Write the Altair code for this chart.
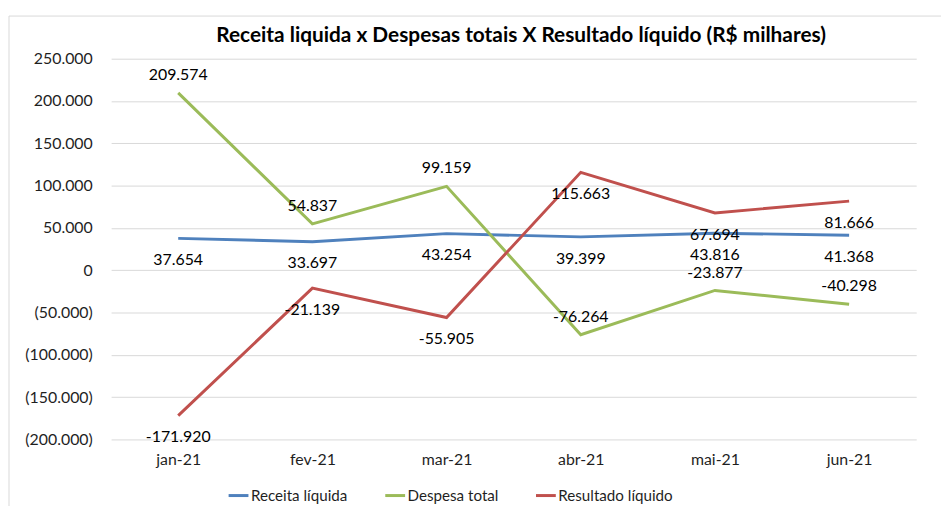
import altair as alt
import pandas as pd

months = ["jan-21", "fev-21", "mar-21", "abr-21", "mai-21", "jun-21"]
series_names = ["Receita líquida", "Despesa total", "Resultado líquido"]
receita = [37654, 33697, 43254, 39399, 43816, 41368]
despesa = [209574, 54837, 99159, -76264, -23877, -40298]
resultado = [-171920, -21139, -55905, 115663, 67694, 81666]
label_side = {"Receita líquida": "below", "Despesa total": "above", "Resultado líquido": "below"}
colors = ["#4F81BD", "#9BBB59", "#C0504D"]
y_ticks = [-200000, -150000, -100000, -50000, 0, 50000, 100000, 150000, 200000, 250000]
title_text = "Receita liquida x Despesas totais X Resultado líquido (R$ milhares)"

rows = []
for name, vals in zip(series_names, [receita, despesa, resultado]):
    for m, v in zip(months, vals):
        rows.append({"mes": m, "serie": name, "valor": v,
                     "rotulo": f"{v:,}".replace(",", "."),
                     "lado": label_side[name]})
df = pd.DataFrame(rows)

FONT = "Lato"
TXT = "#1f1f1f"

x_enc = alt.X("mes:O", sort=months, scale=alt.Scale(type="point", padding=0.5),
              axis=alt.Axis(title=None, labelAngle=0, domain=False, ticks=False, grid=False,
                            labelPadding=12, labelFontSize=16, labelFont=FONT, labelColor=TXT))
y_enc = alt.Y("valor:Q", scale=alt.Scale(domain=[-200000, 250000], nice=False, zero=False),
              axis=alt.Axis(title=None, values=y_ticks, domain=False, ticks=False,
                            gridColor="#d9d9d9", gridWidth=1, labelPadding=19,
                            labelFontSize=16, labelFont=FONT, labelColor=TXT,
                            labelExpr="datum.value < 0 ? '(' + replace(format(-datum.value, ','), ',', '.') + ')' : replace(format(datum.value, ','), ',', '.')"))

base = alt.Chart(df)

lines = base.mark_line(strokeWidth=3).encode(
    x=x_enc, y=y_enc,
    color=alt.Color("serie:N", sort=series_names,
                    scale=alt.Scale(domain=series_names, range=colors),
                    legend=alt.Legend(title=None, orient="none", direction="horizontal",
                                      columns=3, columnPadding=31, legendX=117, legendY=429,
                                      symbolType="stroke", symbolSize=400, symbolStrokeWidth=3,
                                      labelOffset=1, labelFontSize=15.3, labelFont=FONT,
                                      labelColor=TXT)),
    order=alt.Order("serie:N"),
)

above = base.transform_filter(alt.datum.lado == "above").mark_text(
    dy=-18, fontSize=16, font=FONT, color="#000000").encode(x=x_enc, y=y_enc, text="rotulo:N")
below = base.transform_filter(alt.datum.lado == "below").mark_text(
    dy=22, fontSize=16, font=FONT, color="#000000").encode(x=x_enc, y=y_enc, text="rotulo:N")

frame = alt.Chart(pd.DataFrame({"a": [0]})).mark_rect(
    fillOpacity=0, stroke="#d9d9d9", strokeWidth=1).encode(
    x=alt.value(-103), x2=alt.value(860), y=alt.value(-43), y2=alt.value(480))

title = alt.Chart(pd.DataFrame({"t": [title_text]})).mark_text(
    fontSize=21, font=FONT, fontWeight="bold", color="#000000", baseline="middle").encode(
    x=alt.value(413.5), y=alt.value(-23), text="t:N")

chart = alt.layer(frame, lines, above, below, title).properties(
    width=812, height=384,
    padding={"left": 104, "top": 49, "right": 25, "bottom": 65},
    autosize=alt.AutoSizeParams(type="none"),
).configure_view(stroke=None)

chart.save("out.html", embed_options={"renderer": "svg", "actions": False})
